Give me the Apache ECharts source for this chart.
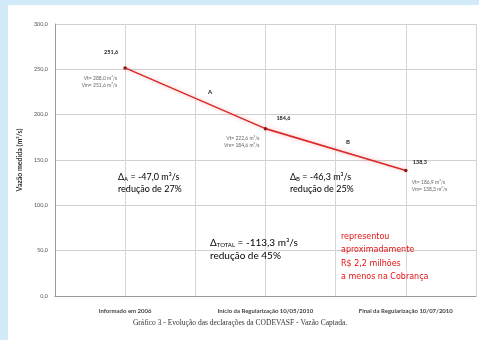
<!DOCTYPE html>
<html>
<head>
<meta charset="utf-8">
<script src="https://cdn.jsdelivr.net/npm/echarts@6/dist/echarts.min.js"></script>
<style>
  html, body { margin: 0; padding: 0; }
  body { width: 479px; height: 340px; background: #d3ebf9; position: relative; overflow: hidden; }
  #chart { position: absolute; left: 8px; top: 5px; width: 471px; height: 335px; background: #fff; }
</style>
</head>
<body>
<div id="chart"></div>
<script>
// dados do gráfico
const categorias = ['Informado em 2006', 'Início da Regularização 10/05/2010', 'Final da Regularização 10/07/2010'];
const posicoes = [1, 3, 5];
const vazoes = [251.6, 184.6, 138.3];
const yTicks = [0, 50, 100, 150, 200, 250, 300];
const detalhes = [
  ['Vt= 288,0 m³/s', 'Vm= 251,6 m³/s'],
  ['Vt= 222,6 m³/s', 'Vm= 184,6 m³/s'],
  ['Vt= 186,9 m³/s', 'Vm= 138,3 m³/s']
];

// deslocamento dos rótulos de cada ponto
const labelOffsets = [[-14, -6], [18, -1], [14, 1]];
const detalheOffsets = [[-8, 7, 'right'], [-6, 6, 'right'], [6, 8, 'left']];

const chart = echarts.init(document.getElementById('chart'));

const pontos = vazoes.map((v, i) => ({
  value: [posicoes[i], v],
  label: { offset: labelOffsets[i] }
}));

const option = {
  animation: false,
  textStyle: { fontFamily: 'Lato' },
  grid: { left: 44, top: 19, width: 432, height: 272 },
  xAxis: {
    type: 'value',
    min: 0,
    max: 6,
    interval: 1,
    axisLine: { lineStyle: { color: '#9a9a9a' } },
    axisTick: { show: false },
    splitLine: { lineStyle: { color: '#d6d6d6' } },
    axisLabel: {
      margin: 12,
      fontSize: 6,
      fontWeight: 'bold',
      color: '#444',
      formatter: v => {
        const i = posicoes.indexOf(v);
        return i >= 0 ? categorias[i] : '';
      }
    }
  },
  yAxis: {
    type: 'value',
    min: 0,
    max: 300,
    interval: 50,
    name: 'Vazão medida (m³/s)',
    nameLocation: 'middle',
    nameGap: 28,
    nameTextStyle: { fontSize: 7, fontWeight: 'bold', color: '#333' },
    axisLine: { show: true, lineStyle: { color: '#9a9a9a' } },
    axisTick: { show: false },
    splitLine: { lineStyle: { color: '#cfcfcf' } },
    axisLabel: {
      margin: 7,
      fontSize: 5.5,
      color: '#555',
      formatter: v => yTicks.includes(v) ? v.toFixed(1).replace('.', ',') : ''
    }
  },
  series: [{
    type: 'line',
    data: pontos,
    symbol: 'circle',
    symbolSize: 3.5,
    itemStyle: { color: '#8a1a1a' },
    lineStyle: {
      color: '#d82a2a',
      width: 1.6,
      shadowColor: 'rgba(255,80,80,0.45)',
      shadowBlur: 4
    },
    label: {
      show: true,
      position: 'top',
      fontSize: 5.5,
      fontWeight: 'bold',
      color: '#222',
      formatter: p => p.value[1].toFixed(1).replace('.', ',')
    },
    z: 5
  }]
};

chart.setOption(option);

// textos de apoio posicionados a partir dos pontos
const graphics = [];
vazoes.forEach((v, i) => {
  const [px, py] = chart.convertToPixel({ gridIndex: 0 }, [posicoes[i], v]);
  const [dx, dy, align] = detalheOffsets[i];
  graphics.push({
    type: 'text',
    x: px + dx,
    y: py + dy,
    style: {
      text: detalhes[i].join('\n'),
      align: align,
      fontSize: 5,
      lineHeight: 7,
      fill: '#666',
      fontFamily: 'Lato'
    }
  });
});

const rich = {
  d: { fontSize: 9, fontFamily: 'Lato', color: '#333' },
  s: { fontSize: 6, fontFamily: 'Lato', color: '#333', padding: [5, 0, 0, 0] },
  D: { fontSize: 10, fontFamily: 'Lato', color: '#333' },
  S: { fontSize: 6, fontFamily: 'Lato', color: '#333', padding: [5, 0, 0, 0] }
};

graphics.push(
  { type: 'text', x: 200, y: 84, style: { text: 'A', fontSize: 6, fontWeight: 'bold', fill: '#222', fontFamily: 'Lato' } },
  { type: 'text', x: 338, y: 134, style: { text: 'B', fontSize: 6, fontWeight: 'bold', fill: '#222', fontFamily: 'Lato' } },
  { type: 'text', x: 110, y: 166, style: { text: '{d|Δ}{s|A}{d| = -47,0 m³/s}\n{d|redução de 27%}', rich: rich, lineHeight: 12 } },
  { type: 'text', x: 282, y: 166, style: { text: '{d|Δ}{s|B}{d| = -46,3 m³/s}\n{d|redução de 25%}', rich: rich, lineHeight: 12 } },
  { type: 'text', x: 202, y: 231, style: { text: '{D|Δ}{S|TOTAL}{D| = -113,3 m³/s}\n{D|redução de 45%}', rich: rich, lineHeight: 13 } },
  {
    type: 'text', x: 333, y: 225,
    style: {
      text: 'representou\naproximadamente\nR$ 2,2 milhões\na menos na Cobrança',
      fontSize: 8, lineHeight: 13.5, fill: '#e41010', fontFamily: 'DejaVu Sans'
    }
  },
  {
    type: 'text', x: 232, y: 318,
    style: {
      text: 'Gráfico 3 - Evolução das declarações da CODEVASF - Vazão Captada.',
      align: 'center', verticalAlign: 'middle',
      fontSize: 7.5, fill: '#333', fontFamily: 'Liberation Serif'
    }
  }
);

chart.setOption({ graphic: graphics });
</script>
</body>
</html>
